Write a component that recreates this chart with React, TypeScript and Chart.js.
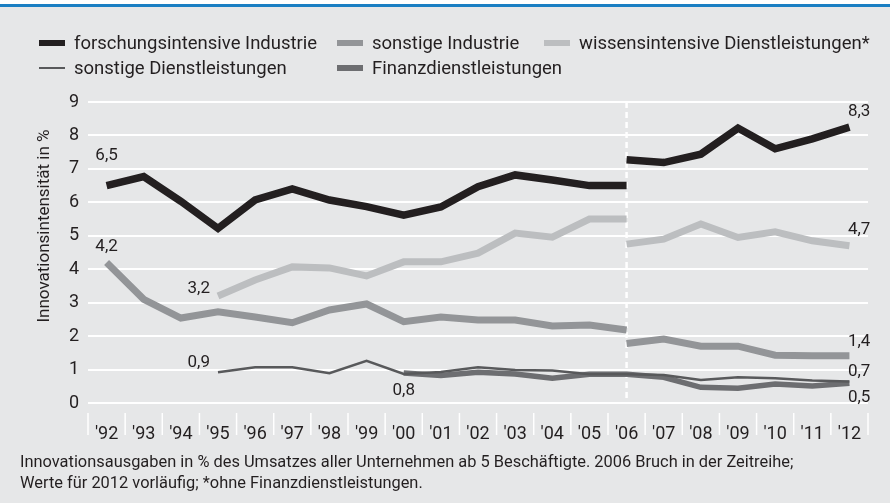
import React, { useEffect, useRef } from "react";
import { Chart, registerables } from "chart.js";

Chart.register(...registerables);

const years = ["'92","'93","'94","'95","'96","'97","'98","'99","'00","'01","'02","'03","'04","'05","'06","'07","'08","'09","'10","'11","'12"];
const yTicks = [0, 1, 2, 3, 4, 5, 6, 7, 8, 9];

const forschBefore = [6.5, 6.77, 6.03, 5.22, 6.07, 6.4, 6.07, 5.87, 5.62, 5.86, 6.47, 6.82, 6.67, 6.5, 6.5, null, null, null, null, null, null];
const forschAfter = [null, null, null, null, null, null, null, null, null, null, null, null, null, null, 7.27, 7.19, 7.44, 8.22, 7.6, 7.9, 8.25];
const sonstIndBefore = [4.2, 3.1, 2.54, 2.73, 2.57, 2.4, 2.78, 2.96, 2.43, 2.57, 2.48, 2.48, 2.3, 2.33, 2.18, null, null, null, null, null, null];
const sonstIndAfter = [null, null, null, null, null, null, null, null, null, null, null, null, null, null, 1.78, 1.91, 1.7, 1.7, 1.43, 1.41, 1.41];
const wissensBefore = [null, null, null, 3.2, 3.68, 4.07, 4.04, 3.8, 4.22, 4.22, 4.48, 5.08, 4.96, 5.5, 5.5, null, null, null, null, null, null];
const wissensAfter = [null, null, null, null, null, null, null, null, null, null, null, null, null, null, 4.75, 4.9, 5.35, 4.95, 5.12, 4.85, 4.7];
const sonstDL = [null, null, null, 0.92, 1.07, 1.07, 0.89, 1.26, 0.87, 0.93, 1.07, 0.99, 0.97, 0.86, 0.86, 0.84, 0.69, 0.77, 0.74, 0.67, 0.64];
const finanzDL = [null, null, null, null, null, null, null, null, 0.9, 0.82, 0.92, 0.87, 0.74, 0.86, 0.86, 0.77, 0.47, 0.44, 0.57, 0.51, 0.59];

const breakIndex = 14;

const legendItems = [
  { text: "forschungsintensive Industrie", color: "#231f20", kind: "bar" },
  { text: "sonstige Industrie", color: "#939598", kind: "bar" },
  { text: "wissensintensive Dienstleistungen*", color: "#bcbec0", kind: "bar" },
  { text: "sonstige Dienstleistungen", color: "#58595b", kind: "line" },
  { text: "Finanzdienstleistungen", color: "#6d6e71", kind: "bar" },
];

// value labels: text, dataset id, category index
const valueLabels = [
  { text: "6,5", ds: "forschBefore", idx: 0 },
  { text: "4,2", ds: "sonstIndBefore", idx: 0 },
  { text: "3,2", ds: "wissensBefore", idx: 3 },
  { text: "0,9", ds: "sonstDL", idx: 3 },
  { text: "0,8", ds: "finanzDL", idx: 8 },
  { text: "8,3", ds: "forschAfter", idx: 20 },
  { text: "4,7", ds: "wissensAfter", idx: 20 },
  { text: "1,4", ds: "sonstIndAfter", idx: 20 },
  { text: "0,7", ds: "sonstDL", idx: 20 },
  { text: "0,5", ds: "finanzDL", idx: 20 },
];

const labelPlacement: Record<string, { align: CanvasTextAlign; dx: number; dy: number }> = {
  "6,5": { align: "center", dx: 0, dy: -30 },
  "4,2": { align: "center", dx: 0, dy: -16 },
  "3,2": { align: "right", dx: -8, dy: -7 },
  "0,9": { align: "right", dx: -8, dy: -9 },
  "0,8": { align: "center", dx: 0, dy: 18 },
  "8,3": { align: "right", dx: 21, dy: -15 },
  "4,7": { align: "right", dx: 21, dy: -16 },
  "1,4": { align: "right", dx: 21, dy: -14 },
  "0,7": { align: "right", dx: 21, dy: -10 },
  "0,5": { align: "right", dx: 21, dy: 14 },
};

const FONT = "Roboto, 'Noto Sans', sans-serif";
const TEXT = "#231f20";

const extrasPlugin = {
  id: "extras",
  beforeDatasetsDraw(chart: any) {
    const { ctx, chartArea, scales } = chart;
    const xs = scales.x;
    ctx.save();
    const bx = xs.getPixelForValue(breakIndex);
    ctx.strokeStyle = "#ffffff";
    ctx.lineWidth = 2.5;
    ctx.setLineDash([6, 4]);
    ctx.beginPath();
    ctx.moveTo(bx, chartArea.top);
    ctx.lineTo(bx, chartArea.bottom);
    ctx.stroke();
    ctx.setLineDash([]);
    const half = (xs.getPixelForValue(1) - xs.getPixelForValue(0)) / 2;
    ctx.lineWidth = 1.5;
    for (let i = 0; i <= years.length; i++) {
      const x = xs.getPixelForValue(0) - half + i * half * 2;
      ctx.beginPath();
      ctx.moveTo(x, chartArea.bottom + 10);
      ctx.lineTo(x, chartArea.bottom + 32);
      ctx.stroke();
    }
    ctx.restore();
  },
  afterDraw(chart: any) {
    const { ctx, chartArea } = chart;
    ctx.save();
    ctx.fillStyle = TEXT;
    ctx.font = `17px ${FONT}`;
    ctx.textBaseline = "middle";
    valueLabels.forEach((l) => {
      const dsIndex = chart.data.datasets.findIndex((d: any) => d.id === l.ds);
      const meta = chart.getDatasetMeta(dsIndex);
      const pt = meta.data[l.idx];
      if (!pt) return;
      const p = labelPlacement[l.text];
      ctx.textAlign = p.align;
      ctx.fillText(l.text, pt.x + p.dx, pt.y + p.dy);
    });
    ctx.translate(45, chartArea.top + 124);
    ctx.rotate(-Math.PI / 2);
    ctx.textAlign = "center";
    ctx.fillText("Innovationsintensität in %", 0, 0);
    ctx.restore();
  },
};

function ds(id: string, label: string, data: (number | null)[], color: string, width: number) {
  return {
    id,
    label,
    data,
    borderColor: color,
    backgroundColor: color,
    borderWidth: width,
    pointRadius: 0,
    pointHoverRadius: 0,
    tension: 0,
    fill: false,
    spanGaps: false,
    borderJoinStyle: "miter" as const,
    borderCapStyle: "butt" as const,
  };
}

export default function App() {
  const canvasRef = useRef<HTMLCanvasElement | null>(null);

  useEffect(() => {
    const canvas = canvasRef.current;
    if (!canvas) return;
    const chart = new Chart(canvas, {
      type: "line",
      data: {
        labels: years,
        datasets: [
          ds("forschBefore", "forschungsintensive Industrie", forschBefore, "#231f20", 7.5),
          ds("forschAfter", "forschungsintensive Industrie", forschAfter, "#231f20", 7.5),
          ds("wissensBefore", "wissensintensive Dienstleistungen*", wissensBefore, "#bcbec0", 7),
          ds("wissensAfter", "wissensintensive Dienstleistungen*", wissensAfter, "#bcbec0", 7),
          ds("sonstIndBefore", "sonstige Industrie", sonstIndBefore, "#939598", 7),
          ds("sonstIndAfter", "sonstige Industrie", sonstIndAfter, "#939598", 7),
          ds("sonstDL", "sonstige Dienstleistungen", sonstDL, "#58595b", 2.5),
          ds("finanzDL", "Finanzdienstleistungen", finanzDL, "#6d6e71", 5.5),
        ] as any,
      },
      options: {
        animation: false,
        responsive: false,
        maintainAspectRatio: false,
        events: [],
        layout: { padding: { top: 102, right: 22, bottom: 0, left: 0 } },
        plugins: { legend: { display: false }, tooltip: { enabled: false }, title: { display: false } },
        scales: {
          x: {
            type: "category",
            offset: true,
            grid: { display: false },
            border: { display: false },
            ticks: { color: TEXT, font: { family: FONT, size: 18 }, padding: 13, maxRotation: 0, autoSkip: false },
            afterFit: (s: any) => { s.height = 100; },
          },
          y: {
            min: 0,
            max: 9,
            afterBuildTicks: (s: any) => { s.ticks = yTicks.map((v) => ({ value: v })); },
            grid: { color: "#ffffff", lineWidth: 2, drawTicks: false },
            border: { display: false },
            ticks: { color: TEXT, font: { family: FONT, size: 18 }, padding: 9 },
            afterFit: (s: any) => { s.width = 88; },
          },
        },
      },
      plugins: [extrasPlugin],
    });
    return () => chart.destroy();
  }, []);

  const legendPos = [
    { left: 39, top: 43 },
    { left: 337, top: 43 },
    { left: 544, top: 43 },
    { left: 39, top: 68 },
    { left: 337, top: 68 },
  ];

  return (
    <div style={{ position: "absolute", left: 0, top: 0, width: 890, height: 503, background: "#e6e7e8", overflow: "hidden", fontFamily: FONT, color: TEXT }}>
      <div style={{ position: "absolute", left: 0, top: 0, width: 890, height: 4, background: "#ffffff" }} />
      <div style={{ position: "absolute", left: 0, top: 4, width: 890, height: 3, background: "#1a7fc3" }} />
      <canvas ref={canvasRef} width={890} height={503} style={{ position: "absolute", left: 0, top: 0, width: 890, height: 503 }} />
      {legendItems.map((it, i) => (
        <div key={i} style={{ position: "absolute", left: legendPos[i].left, top: legendPos[i].top - 12, height: 24, display: "flex", alignItems: "center", whiteSpace: "nowrap", fontSize: 18.5 }}>
          <span style={{ display: "inline-block", width: 26, height: it.kind === "line" ? 2.5 : 6, background: it.color, marginRight: 9 }} />
          <span>{it.text}</span>
        </div>
      ))}
      <div style={{ position: "absolute", left: 20, top: 451, fontSize: 16.4, lineHeight: "21px", whiteSpace: "nowrap" }}>
        Innovationsausgaben in % des Umsatzes aller Unternehmen ab 5 Beschäftigte. 2006 Bruch in der Zeitreihe;
        <br />
        Werte für 2012 vorläufig; *ohne Finanzdienstleistungen.
      </div>
    </div>
  );
}
